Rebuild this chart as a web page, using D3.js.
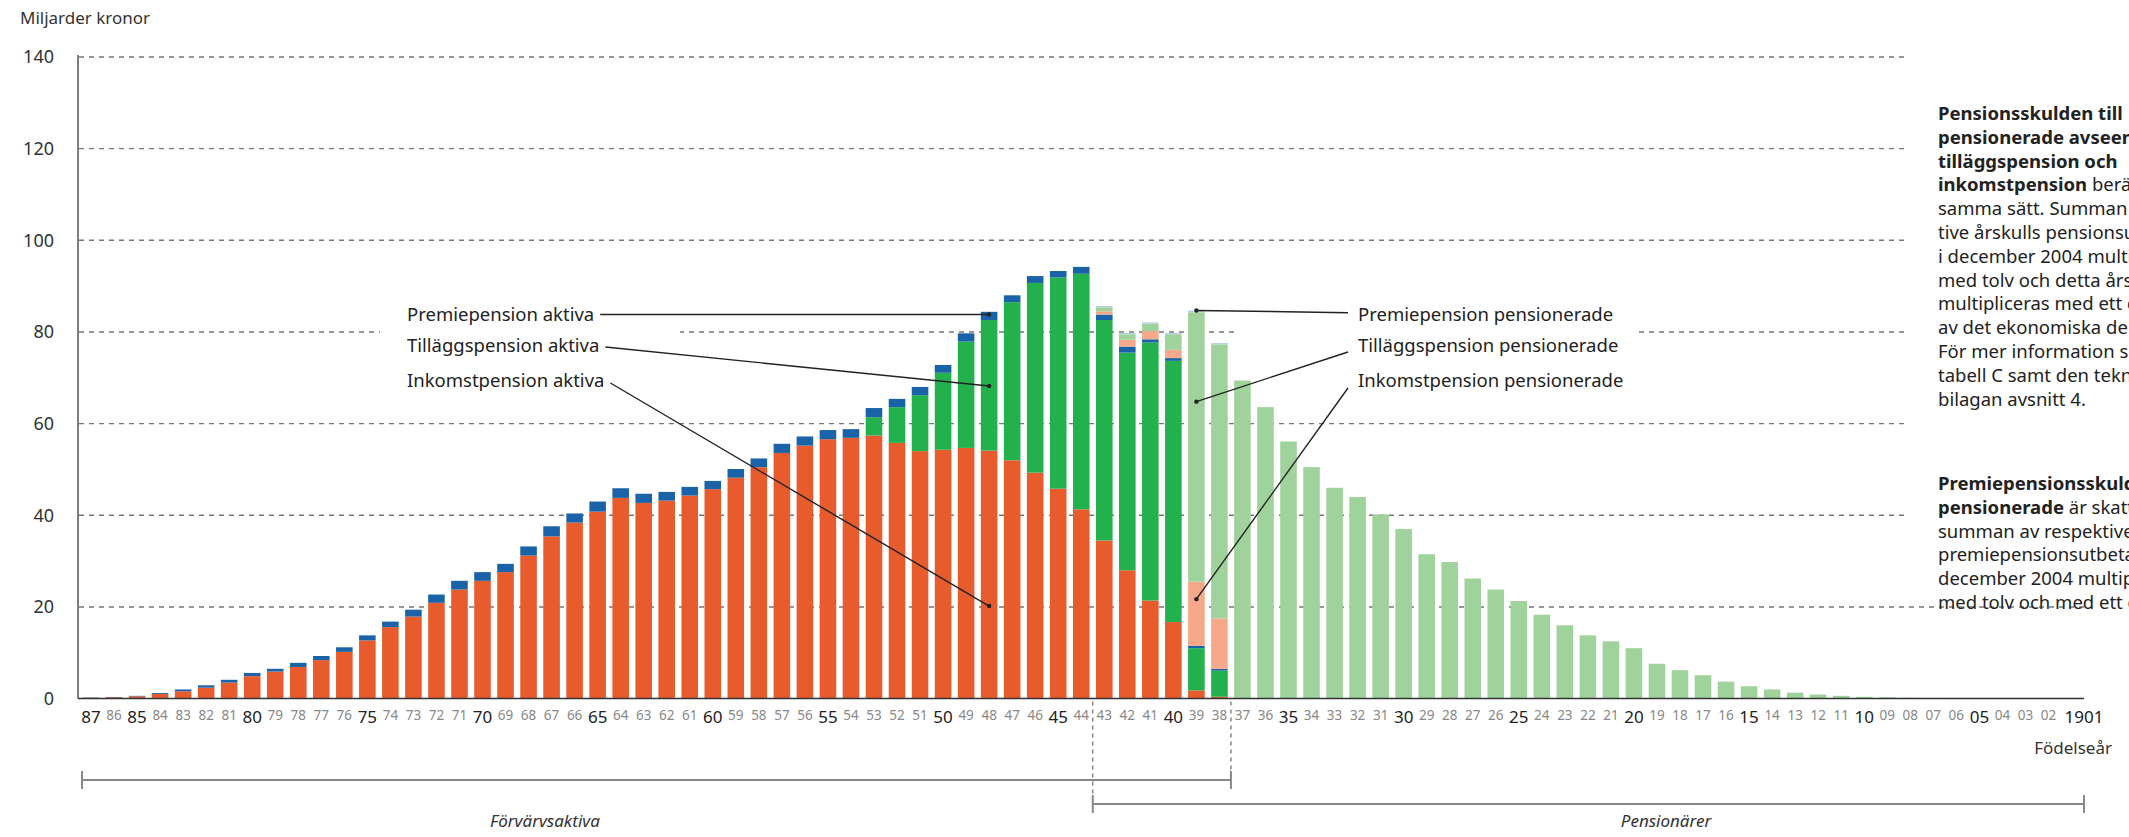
<!DOCTYPE html>
<html><head><meta charset="utf-8">
<script src="https://cdn.jsdelivr.net/npm/d3@7"></script>
<style>
body{margin:0;background:#fff;overflow:hidden}
svg{display:block}
text{font-family:"Noto Sans",sans-serif}
</style>
</head><body>
<svg id="c" width="2129" height="837"></svg>
<script>
// ---- data ----
const years = ["87","86","85","84","83","82","81","80","79","78","77","76","75","74","73","72","71","70","69","68","67","66","65","64","63","62","61","60","59","58","57","56","55","54","53","52","51","50","49","48","47","46","45","44","43","42","41","40","39","38","37","36","35","34","33","32","31","30","29","28","27","26","25","24","23","22","21","20","19","18","17","16","15","14","13","12","11","10","09","08","07","06","05","04","03","02","1901"];
const majorLabels = ["87","85","80","75","70","65","60","55","50","45","40","35","30","25","20","15","10","05","1901"];
const inkomstAktiva = [0.2,0.3,0.5,1.0,1.6,2.4,3.5,4.9,5.9,6.9, 8.4,10.2,12.7,15.6,17.9,20.9,23.8,25.7,27.6,31.2, 35.4,38.4,40.8,43.8,42.7,43.2,44.3,45.7,48.2,50.5, 53.6,55.2,56.6,56.9,57.4,55.8,54.0,54.3,54.7,54.1, 52.0,49.3,45.8,41.3,34.5,28.0,21.4,16.7,1.8,0.4, 0,0,0,0,0,0,0,0,0,0, 0,0,0,0,0,0,0,0,0,0, 0,0,0,0,0,0,0,0,0,0, 0,0,0,0,0,0,0];
const tillaggAktiva = [0,0,0,0,0,0,0,0,0,0, 0,0,0,0,0,0,0,0,0,0, 0,0,0,0,0,0,0,0,0,0, 0,0,0,0,4.0,7.8,12.2,16.8,23.2,28.5, 34.5,41.4,46.1,51.4,48.1,47.5,56.3,57.0,9.2,5.7, 0,0,0,0,0,0,0,0,0,0, 0,0,0,0,0,0,0,0,0,0, 0,0,0,0,0,0,0,0,0,0, 0,0,0,0,0,0,0];
const premieAktiva = [0.05,0.05,0.1,0.2,0.4,0.5,0.6,0.7,0.6,0.9, 0.9,1.0,1.1,1.2,1.5,1.8,1.9,1.9,1.8,2.0, 2.2,2.0,2.2,2.1,2.0,1.9,1.9,1.8,1.9,1.9, 2.0,2.0,2.0,1.9,2.0,1.8,1.8,1.7,1.8,1.8, 1.5,1.5,1.4,1.5,1.2,1.3,0.7,0.6,0.5,0.4, 0,0,0,0,0,0,0,0,0,0, 0,0,0,0,0,0,0,0,0,0, 0,0,0,0,0,0,0,0,0,0, 0,0,0,0,0,0,0];
const inkomstPens = [0,0,0,0,0,0,0,0,0,0, 0,0,0,0,0,0,0,0,0,0, 0,0,0,0,0,0,0,0,0,0, 0,0,0,0,0,0,0,0,0,0, 0,0,0,0,0.7,1.5,1.8,1.8,14.0,11.0, 0,0,0,0,0,0,0,0,0,0, 0,0,0,0,0,0,0,0,0,0, 0,0,0,0,0,0,0,0,0,0, 0,0,0,0,0,0,0];
const tillaggPens = [0,0,0,0,0,0,0,0,0,0, 0,0,0,0,0,0,0,0,0,0, 0,0,0,0,0,0,0,0,0,0, 0,0,0,0,0,0,0,0,0,0, 0,0,0,0,0.9,1.2,1.6,3.4,58.8,59.8, 69.4,63.6,56.1,50.5,46.0,44.0,40.2,37.0,31.5,29.8, 26.2,23.8,21.3,18.3,16.0,13.8,12.5,11.0,7.6,6.2, 5.1,3.7,2.7,2.0,1.3,0.9,0.6,0.4,0.3,0.2, 0.15,0.1,0.1,0.08,0.05,0.05,0.03];
const premiePens = [0,0,0,0,0,0,0,0,0,0, 0,0,0,0,0,0,0,0,0,0, 0,0,0,0,0,0,0,0,0,0, 0,0,0,0,0,0,0,0,0,0, 0,0,0,0,0.3,0.3,0.3,0.3,0.4,0.3, 0,0,0,0,0,0,0,0,0,0, 0,0,0,0,0,0,0,0,0,0, 0,0,0,0,0,0,0,0,0,0, 0,0,0,0,0,0,0];
const seriesNames = ["Inkomstpension aktiva","Tilläggspension aktiva","Premiepension aktiva","Inkomstpension pensionerade","Tilläggspension pensionerade","Premiepension pensionerade"];
const seriesColors = ["#e85b2d","#22b14c","#1a63a8","#f5a98a","#9fd39b","#b8cfe6"];
const yTicks = [0,20,40,60,80,100,120,140];

// ---- build ----
const svg = d3.select("#c");
const rows = years.map((yr,i)=>({year:yr,
  [seriesNames[0]]:inkomstAktiva[i],[seriesNames[1]]:tillaggAktiva[i],[seriesNames[2]]:premieAktiva[i],
  [seriesNames[3]]:inkomstPens[i],[seriesNames[4]]:tillaggPens[i],[seriesNames[5]]:premiePens[i]}));
const x = d3.scaleBand().domain(years).range([79.5,2083]).paddingInner(0.28).paddingOuter(0.14);
const y = d3.scaleLinear().domain([0,140]).range([698.6,57]);
const color = d3.scaleOrdinal().domain(seriesNames).range(seriesColors);
const cx = yr => x(yr)+x.bandwidth()/2;
const AX = 78;

// title
svg.append("text").attr("x",20).attr("y",24).attr("font-size",17).attr("fill","#333").text("Miljarder kronor");

// gridlines
svg.append("g").selectAll("line").data(yTicks.filter(t=>t>0)).join("line")
  .attr("x1",AX+1).attr("x2",t=>t===20?2084:1908)
  .attr("y1",t=>y(t)).attr("y2",t=>y(t))
  .attr("stroke","#777").attr("stroke-width",1.4).attr("stroke-dasharray","5,5");

// y axis labels
const yAxis = d3.axisLeft(y).tickValues(yTicks).tickSize(0).tickPadding(0);
const gy = svg.append("g").attr("transform","translate(54,0)").call(yAxis);
gy.select(".domain").remove();
gy.selectAll("text").attr("font-size",18).attr("fill","#333").attr("font-family","Noto Sans");

// masks behind labels for 80 gridline
svg.append("rect").attr("x",380).attr("y",y(80)-6).attr("width",300).attr("height",12).attr("fill","#fff");
svg.append("rect").attr("x",1238).attr("y",y(80)-6).attr("width",400).attr("height",12).attr("fill","#fff");

// bars
const stacked = d3.stack().keys(seriesNames)(rows);
svg.append("g").selectAll("g").data(stacked).join("g").attr("fill",d=>color(d.key))
  .selectAll("rect").data(d=>d).join("rect")
  .attr("x",d=>x(d.data.year)).attr("width",x.bandwidth())
  .attr("y",d=>y(d[1])).attr("height",d=>Math.max(0,y(d[0])-y(d[1])));

// axis lines
svg.append("line").attr("x1",AX).attr("x2",AX).attr("y1",y(140)-2).attr("y2",y(0)).attr("stroke","#555").attr("stroke-width",1.5);
svg.append("line").attr("x1",AX).attr("x2",2084).attr("y1",y(0)).attr("y2",y(0)).attr("stroke","#333").attr("stroke-width",1.5);

// x axis labels
const xAxis = d3.axisBottom(x).tickSize(0).tickPadding(0);
const gx = svg.append("g").attr("transform",`translate(0,${y(0)+12})`).call(xAxis);
gx.select(".domain").remove();
gx.selectAll("text").attr("font-family","Noto Sans")
  .attr("font-size",d=>majorLabels.includes(d)?17:13.5)
  .attr("fill",d=>majorLabels.includes(d)?"#222":"#888")
  .attr("text-anchor",d=>d==="1901"?"start":"middle")
  .attr("x",d=>d==="1901"?-7:0);

// annotations
const ann = svg.append("g");
function label(xp,yp,t){return ann.append("text").attr("x",xp).attr("y",yp).attr("dy","0.35em").attr("font-size",18.5).attr("fill","#222").text(t);}
function leader(x1,y1,x2,y2){
  ann.append("line").attr("x1",x1).attr("y1",y1).attr("x2",x2).attr("y2",y2).attr("stroke","#222").attr("stroke-width",1.4);
  ann.append("circle").attr("cx",x2).attr("cy",y2).attr("r",2.2).attr("fill","#222");
}
const leftX = 407;
const l1 = label(leftX, y(83.8), seriesNames[2]);
const l2 = label(leftX, 346, seriesNames[1]);
const l3 = label(leftX, 381, seriesNames[0]);
const bA = cx("48");
leader(leftX+l1.node().getComputedTextLength()+6, y(83.8), bA, y(83.8));
leader(leftX+l2.node().getComputedTextLength()+6, 347, bA, y(68.2));
leader(leftX+l3.node().getComputedTextLength()+6, 383, bA, y(20.2));
const rightX = 1358;
label(rightX, y(83.8), seriesNames[5]);
label(rightX, 346, seriesNames[4]);
label(rightX, 381, seriesNames[3]);
const bP = cx("39");
leader(rightX-10, y(84.2), bP, y(84.7));
leader(rightX-10, 352, bP, y(64.8));
leader(rightX-10, 388, bP, y(21.7));

// x-axis title
svg.append("text").attr("x",2112).attr("y",754).attr("text-anchor","end").attr("font-size",17).attr("fill","#333").text("Födelseår");

// brackets
const b1 = (x(years[43])+x.bandwidth()+x(years[44]))/2;
const b2 = (x(years[49])+x.bandwidth()+x(years[50]))/2;
const br = svg.append("g").attr("stroke","#888").attr("stroke-width",2);
function bracket(xa,xb,yy){
  br.append("line").attr("x1",xa).attr("x2",xb).attr("y1",yy).attr("y2",yy);
  br.append("line").attr("x1",xa).attr("x2",xa).attr("y1",yy-9).attr("y2",yy+9);
  br.append("line").attr("x1",xb).attr("x2",xb).attr("y1",yy-9).attr("y2",yy+9);
}
bracket(82,b2,780);
bracket(b1,2084,804);
svg.append("line").attr("x1",b1).attr("x2",b1).attr("y1",y(0)+3).attr("y2",795).attr("stroke","#777").attr("stroke-width",1.3).attr("stroke-dasharray","4,4");
svg.append("line").attr("x1",b2).attr("x2",b2).attr("y1",y(0)+3).attr("y2",771).attr("stroke","#777").attr("stroke-width",1.3).attr("stroke-dasharray","4,4");
svg.append("text").attr("x",545).attr("y",827).attr("text-anchor","middle").attr("font-size",17).attr("font-style","italic").attr("fill","#333").text("Förvärvsaktiva");
svg.append("text").attr("x",1666).attr("y",827).attr("text-anchor","middle").attr("font-size",17).attr("font-style","italic").attr("fill","#333").text("Pensionärer");

// side text
const sideLines = [
  [["Pensionsskulden till",true]],
  [["pensionerade avseende",true]],
  [["tilläggspension och",true]],
  [["inkomstpension",true],[" beräknas på",false]],
  [["samma sätt. Summan av respek-",false]],
  [["tive årskulls pensionsutbetalningar",false]],
  [["i december 2004 multipliceras",false]],
  [["med tolv och detta årsbelopp",false]],
  [["multipliceras med ett delningstal",false]],
  [["av det ekonomiska delningstalet.",false]],
  [["För mer information se",false]],
  [["tabell C samt  den tekniska",false]],
  [["bilagan avsnitt 4.",false]],
  null,
  [["Premiepensionsskulden till",true]],
  [["pensionerade",true],[" är skattad som",false]],
  [["summan av respektive årskulls",false]],
  [["premiepensionsutbetalningar i",false]],
  [["december 2004 multiplicerad",false]],
  [["med tolv och med ett delningstal.",false]]
];
const side = svg.append("g");
let ly = 120;
sideLines.forEach(ln=>{
  if(ln){
    const t = side.append("text").attr("x",1938).attr("y",ly).attr("font-size",18.5).attr("fill","#222");
    ln.forEach(([s,b])=>t.append("tspan").attr("font-weight",b?"bold":"normal").text(s));
    ly += 23.8;
  } else ly += 60.6;
});
</script>
</body></html>
